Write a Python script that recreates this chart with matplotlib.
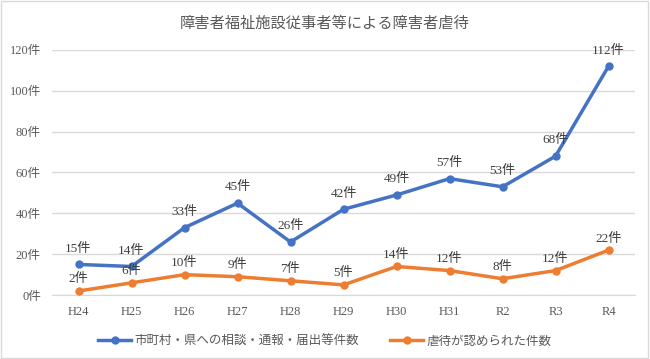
import matplotlib.pyplot as plt
from matplotlib.patches import Rectangle

plt.rcParams['font.family'] = ['Liberation Serif', 'Noto Sans CJK JP', 'DejaVu Sans']

years = ['H24', 'H25', 'H26', 'H27', 'H28', 'H29', 'H30', 'H31', 'R2', 'R3', 'R4']
consults = [15, 14, 33, 45, 26, 42, 49, 57, 53, 68, 112]
abuse = [2, 6, 10, 9, 7, 5, 14, 12, 8, 12, 22]
consultName = '市町村・県への相談・通報・届出等件数'
abuseName = '虐待が認められた件数'
yTicks = [0, 20, 40, 60, 80, 100, 120]

fig = plt.figure(figsize=(6.5, 3.59), dpi=100)
ax = fig.add_axes([0.08, 0.178, 0.897, 0.683])
fig.patches.append(Rectangle((0.002, 0.003), 0.995, 0.994, transform=fig.transFigure,
                             fill=False, edgecolor='#D9D9D9', linewidth=1))

x = range(len(years))
ax.plot(x, consults, color='#4472C4', linewidth=2.5, marker='o', markersize=5, label=consultName, zorder=3)
ax.plot(x, abuse, color='#ED7D31', linewidth=2.5, marker='o', markersize=5, label=abuseName, zorder=3)

for i in x:
    ax.annotate(str(consults[i]) + '件', (i, consults[i]), xytext=(0, 7), textcoords='offset points',
                ha='center', va='bottom', fontsize=9.5, color='#404040')
    ax.annotate(str(abuse[i]) + '件', (i, abuse[i]), xytext=(0, 4), textcoords='offset points',
                ha='center', va='bottom', fontsize=9.5, color='#404040')

ax.set_xlim(-0.5, len(years) - 0.5)
ax.set_ylim(0, 120)
ax.set_yticks(yTicks)
ax.set_yticklabels([str(v) + '件' for v in yTicks])
ax.set_xticks(list(x))
ax.set_xticklabels(years)
ax.tick_params(length=0, labelsize=9, labelcolor='#595959', pad=8)
ax.grid(axis='y', color='#D9D9D9', linewidth=1)
ax.set_axisbelow(True)
for s in ax.spines.values():
    s.set_visible(False)
ax.spines['bottom'].set_visible(True)
ax.spines['bottom'].set_color('#D9D9D9')

fig.suptitle('障害者福祉施設従事者等による障害者虐待', y=0.955, fontsize=11, color='#595959')
fig.legend(loc='lower center', ncol=2, frameon=False, fontsize=9, bbox_to_anchor=(0.5, 0.0),
           handlelength=2.6, handletextpad=0.3, columnspacing=2.5, labelcolor='#595959')

plt.savefig('out.png', dpi=100)
